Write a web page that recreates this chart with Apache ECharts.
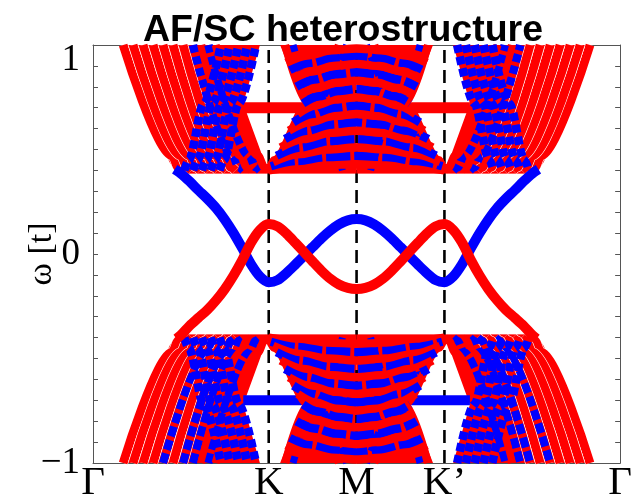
<!DOCTYPE html>
<html>
<head>
<meta charset="utf-8">
<script src="https://cdn.jsdelivr.net/npm/echarts@6/dist/echarts.min.js"></script>
<style>
  html, body { margin: 0; padding: 0; background: #fff; }
  #chart { width: 635px; height: 504px; }
</style>
</head>
<body>
<div id="chart"></div>
<script>
// High-symmetry points along the path Γ–K–M–K'–Γ
const kNodes = [0, 2, 3, 4, 6];
const kNodeLabels = ['Γ', 'K', 'M', 'K’', 'Γ'];
const omegaTickLabels = [[-1, '−1'], [0, '0'], [1, '1']];

// All band data below covers the Γ→K→M half (k from 0 to 3) as [k, ω] pairs;
// the M→K'→Γ half is its mirror image about M, and the continuum below the gap
// mirrors the one above it.

// In-gap edge states
const edgeBlue = [[0.93, 0.405], [1.0, 0.385], [1.1, 0.347], [1.2, 0.305], [1.3, 0.265], [1.4, 0.22],
  [1.5, 0.165], [1.6, 0.10], [1.7, 0.027], [1.8, -0.05], [1.9, -0.108], [2.0, -0.135],
  [2.1, -0.125], [2.2, -0.092], [2.3, -0.052], [2.4, -0.01], [2.5, 0.033], [2.6, 0.075],
  [2.7, 0.112], [2.8, 0.142], [2.9, 0.161], [3.0, 0.167]];
const edgeRed = [[0.95, -0.405], [1.0, -0.388], [1.1, -0.343], [1.2, -0.305], [1.3, -0.268], [1.4, -0.222],
  [1.5, -0.168], [1.6, -0.103], [1.7, -0.028], [1.8, 0.055], [1.9, 0.115], [2.0, 0.143],
  [2.1, 0.132], [2.2, 0.098], [2.3, 0.055], [2.4, 0.01], [2.5, -0.036], [2.6, -0.08],
  [2.7, -0.118], [2.8, -0.146], [2.9, -0.162], [3.0, -0.167]];

// Flat bands
const flatRed = [[1.71, 0.70], [3.0, 0.70]];
const flatBlue = [[1.71, -0.70], [3.0, -0.70]];

// Outlines of the continuum above the gap
const gkOutline = [[0.34, 1.0], [0.53, 0.786], [0.76, 0.548], [0.87, 0.44], [0.94, 0.396], [1.0, 0.386],
  [2.0, 0.386], [1.71, 0.72], [1.90, 1.0]];
const kmOutline = [[2.0, 0.386], [3.0, 0.386], [3.0, 1.0], [2.13, 1.0], [2.39, 0.72]];

// Γ–K bundle: falling branches
const gkFalling = [
  [[0.343, 1.0], [0.90, 0.47], [0.97, 0.415], [1.02, 0.40]],
  [[0.456, 1.0], [1.00, 0.47], [1.07, 0.415], [1.12, 0.40]],
  [[0.57, 1.0], [1.10, 0.47], [1.17, 0.415], [1.22, 0.40]],
  [[0.684, 1.0], [1.20, 0.47], [1.27, 0.415], [1.32, 0.40]],
  [[0.797, 1.0], [1.30, 0.47], [1.37, 0.415], [1.42, 0.40]],
  [[0.911, 1.0], [1.40, 0.47], [1.47, 0.415], [1.52, 0.40]],
  [[1.025, 1.0], [1.50, 0.47], [1.57, 0.415], [1.62, 0.40]],
  [[1.138, 1.0], [1.59, 0.47], [1.66, 0.415], [1.71, 0.40]],
  [[1.232, 1.0], [1.68, 0.47], [1.75, 0.415], [1.80, 0.40]],
  [[1.314, 1.0], [1.78, 0.47], [1.85, 0.415], [1.90, 0.40]],
  [[1.396, 1.0], [1.88, 0.47], [1.95, 0.415], [2.00, 0.40]]
];
// colours above / below the gap
const gkFallingColorsUpper = ['r', 'r', 'r', 'r', 'r', 'r', 'r', 'b', 'r', 'b', 'r'];
const gkFallingColorsLower = ['r', 'r', 'r', 'r', 'b', 'r', 'b', 'b', 'r', 'b', 'r'];
const gkStripedCount = 7; // outer falling branches separated by thin gaps

// Γ–K bundle: rising branches
const gkRising = [
  [[1.04, 0.40], [1.09, 0.45], [1.26, 0.72], [1.455, 1.0]],
  [[1.14, 0.40], [1.19, 0.45], [1.36, 0.72], [1.555, 1.0]],
  [[1.24, 0.40], [1.29, 0.45], [1.46, 0.72], [1.655, 1.0]],
  [[1.34, 0.40], [1.39, 0.45], [1.56, 0.72], [1.755, 1.0]],
  [[1.44, 0.40], [1.49, 0.45], [1.66, 0.72], [1.855, 1.0]]
];

// Gap edge of the continuum
const gapFloor = [[0.97, 0.40], [3.0, 0.40]];

// K–M bundle: diagonals bounding the hourglass
const kmDiagonals = [
  [[2.00, 0.40], [2.06, 0.45], [2.45, 0.72], [2.798, 1.0]],
  [[2.09, 0.40], [2.15, 0.45], [2.54, 0.72], [2.888, 1.0]],
  [[2.187, 1.0], [2.45, 0.72], [2.75, 0.40]],
  [[2.277, 1.0], [2.54, 0.72], [2.84, 0.40]]
];
const kmDiagonalColors = ['r', 'b', 'r', 'b'];

// K–M bundle: dome-shaped bands peaking at M
const kmDomes = [
  [[2.00, 0.40], [2.30, 0.415], [2.65, 0.426], [3, 0.43]],
  [[2.025, 0.42], [2.32, 0.445], [2.66, 0.464], [3, 0.47]],
  [[2.05, 0.44], [2.335, 0.477], [2.67, 0.50], [3, 0.51]],
  [[2.09, 0.47], [2.36, 0.51], [2.68, 0.54], [3, 0.55]],
  [[2.135, 0.51], [2.395, 0.55], [2.70, 0.58], [3, 0.59]],
  [[2.185, 0.55], [2.43, 0.59], [2.715, 0.62], [3, 0.63]],
  [[2.23, 0.59], [2.46, 0.63], [2.73, 0.66], [3, 0.67]],
  [[2.28, 0.63], [2.495, 0.67], [2.75, 0.70], [3, 0.71]],
  [[2.33, 0.67], [2.53, 0.71], [2.765, 0.74], [3, 0.75]],
  [[2.39, 0.72], [2.57, 0.755], [2.79, 0.78], [3, 0.79]],
  [[2.35, 0.76], [2.545, 0.795], [2.77, 0.82], [3, 0.83]],
  [[2.315, 0.80], [2.52, 0.835], [2.76, 0.86], [3, 0.87]],
  [[2.28, 0.84], [2.495, 0.875], [2.75, 0.90], [3, 0.91]],
  [[2.24, 0.88], [2.47, 0.915], [2.735, 0.94], [3, 0.95]],
  [[2.20, 0.915], [2.44, 0.95], [2.72, 0.975], [3, 0.983]]
];
const kmDomeColors = ['r', 'b', 'r', 'b', 'r', 'b', 'r', 'b', 'r', 'b', 'r', 'b', 'r', 'b', 'r'];

// ---------------------------------------------------------------------
const RED = '#ff0000';
const BLUE = '#0000ff';

const mirrorK = pts => pts.map(([k, w]) => [6 - k, w]).reverse();
const fullPath = half => half.concat(mirrorK(half).slice(1));
const flipW = pts => pts.map(([k, w]) => [k, -w]);

const series = [];
function addLine(pts, style, extra) {
  series.push(Object.assign({
    type: 'line',
    data: pts,
    showSymbol: false,
    symbol: 'none',
    silent: true,
    smooth: 0.3,
    smoothMonotone: 'x',
    clip: true,
    animation: false,
    lineStyle: Object.assign({ cap: 'butt' }, style)
  }, extra || {}));
}
// a bulk branch on both halves of the path, above (and mirrored below) the gap
function addBulk(half, style, lowerStyle) {
  [half, mirrorK(half)].forEach(p => {
    if (style) addLine(p, style);
    if (lowerStyle !== null) addLine(flipW(p), lowerStyle || style);
  });
}

// dashed guides at K, M, K'
kNodes.slice(1, 4).forEach(k => {
  addLine([[k, -1], [k, 1]], { color: '#000', width: 2.6, type: [13, 7] }, { smooth: false });
});

// flat bands
addLine(fullPath(flatRed), { color: RED, width: 11 }, { smooth: false });
addLine(fullPath(flatBlue), { color: BLUE, width: 10 }, { smooth: false });

// filled continuum regions
const outlines = [];
[gkOutline, kmOutline].forEach(o => {
  const m = mirrorK(o);
  [o, m, flipW(o), flipW(m)].forEach(p => outlines.push(p));
});
series.push({
  type: 'custom',
  silent: true,
  animation: false,
  data: outlines.map((_, i) => [i]),
  renderItem: (params, api) => ({
    type: 'polygon',
    shape: { points: outlines[params.dataIndex].map(p => api.coord(p)) },
    style: { fill: RED }
  })
});

// continuum branches
const blueDash = { color: BLUE, width: 8.5, type: [8, 4] };
addBulk(gapFloor, { color: RED, width: 6 });
gkFalling.forEach((p, i) => {
  if (i < gkStripedCount) {
    addBulk(p, { color: '#fff', width: 10 });
    addBulk(p, { color: RED, width: 8.8 });
  } else if (gkFallingColorsUpper[i] === 'r') {
    addBulk(p, { color: RED, width: 8 }, null);
  } else {
    addBulk(p, blueDash, null);
  }
  if (i < gkStripedCount && gkFallingColorsUpper[i] === 'b') addBulk(p, blueDash, null);
  if (gkFallingColorsLower[i] === 'b') addBulk(p, null, { color: BLUE, width: 8, type: [10, 4] });
  else if (i >= gkStripedCount) addBulk(p, null, { color: RED, width: 8 });
});
gkRising.forEach(p => addBulk(p, blueDash));
kmDiagonals.forEach((p, i) => {
  if (kmDiagonalColors[i] === 'r') addBulk(p, { color: RED, width: 8 });
  else addBulk(p, { color: BLUE, width: 7, type: [7, 6] });
});
kmDomes.forEach((p, i) => {
  const st = kmDomeColors[i] === 'r'
    ? { color: RED, width: 8.5 }
    : { color: BLUE, width: 8.5, type: [24, 4] };
  addLine(fullPath(p), st);
  addLine(flipW(fullPath(p)), st);
});

// edge states
addLine(fullPath(edgeBlue), { color: BLUE, width: 10 }, { smooth: 0.3, smoothMonotone: null });
addLine(fullPath(edgeRed), { color: RED, width: 10 }, { smooth: 0.3, smoothMonotone: null });

const axisGray = '#555';
const option = {
  animation: false,
  backgroundColor: '#fff',
  title: {
    text: 'AF/SC heterostructure',
    left: 338,
    top: 7,
    textAlign: 'center',
    textStyle: { fontFamily: 'Liberation Sans', fontWeight: 'bold', fontSize: 37.5, color: '#000' }
  },
  grid: { left: 93, right: 10, top: 45, bottom: 39 },
  xAxis: [{
    type: 'value', min: 0, max: 6, interval: 1, position: 'bottom',
    axisLine: { show: true, onZero: false, lineStyle: { color: axisGray, width: 1 } },
    axisTick: { show: false },
    splitLine: { show: false },
    axisLabel: {
      interval: 0, showMinLabel: true, showMaxLabel: true, margin: 0,
      fontFamily: 'Liberation Serif', fontSize: 41, color: '#000',
      formatter: v => { const i = kNodes.indexOf(Math.round(v)); return i >= 0 ? kNodeLabels[i] : ''; }
    }
  }, {
    type: 'value', min: 0, max: 6, interval: 1, position: 'top',
    axisLine: { show: true, onZero: false, lineStyle: { color: axisGray, width: 1 } },
    axisTick: { show: false }, axisLabel: { show: false }, splitLine: { show: false }
  }],
  yAxis: [{
    type: 'value', min: -1, max: 1, interval: 0.1, position: 'left',
    name: 'ω [t]', nameLocation: 'middle', nameGap: 34, nameRotate: 90, nameMoveOverlap: false,
    nameTextStyle: { fontFamily: 'Liberation Serif', fontSize: 34, color: '#000' },
    axisLine: { show: true, onZero: false, lineStyle: { color: axisGray, width: 1 } },
    axisTick: { show: true, inside: true, length: 5, lineStyle: { color: axisGray } },
    splitLine: { show: false },
    axisLabel: {
      interval: 0, showMinLabel: true, showMaxLabel: true, margin: 13,
      fontFamily: 'Liberation Serif', fontSize: 37, lineHeight: 30, color: '#000',
      verticalAlignMaxLabel: 'top',
      formatter: v => { const t = omegaTickLabels.find(p => Math.abs(p[0] - v) < 1e-6); return t ? t[1] : ''; }
    }
  }, {
    type: 'value', min: -1, max: 1, interval: 0.1, position: 'right',
    axisLine: { show: true, onZero: false, lineStyle: { color: axisGray, width: 1 } },
    axisTick: { show: true, inside: true, length: 5, lineStyle: { color: axisGray } },
    splitLine: { show: false }, axisLabel: { show: false }
  }],
  series: series
};

const chart = echarts.init(document.getElementById('chart'));
chart.setOption(option);
</script>
</body>
</html>
